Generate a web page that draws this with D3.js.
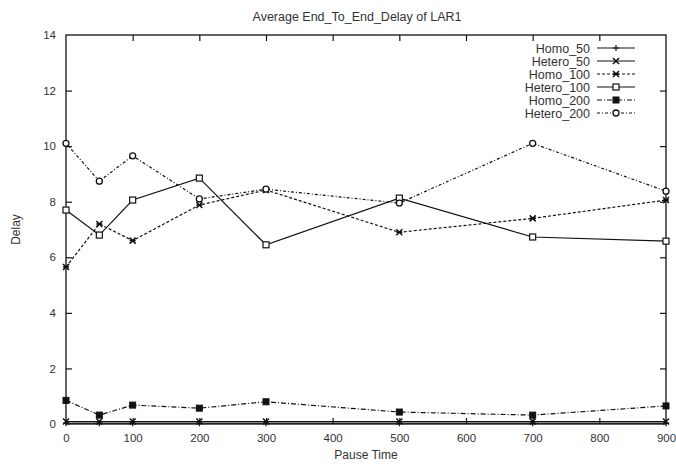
<!DOCTYPE html>
<html>
<head>
<meta charset="utf-8">
<script src="https://cdn.jsdelivr.net/npm/d3@7"></script>
<style>
  html, body { margin: 0; padding: 0; background: #fff; }
  svg { display: block; font-family: "Liberation Sans", Arial, sans-serif; }
</style>
</head>
<body>
<svg id="chart" width="676" height="464"></svg>
<script>
// Pause times (x) and average end-to-end delay per scenario
const pauseTimes = [0, 50, 100, 200, 300, 500, 700, 900];
const homo50    = [0.03, 0.03, 0.03, 0.03, 0.03, 0.03, 0.03, 0.03];
const hetero50  = [0.09, 0.09, 0.09, 0.09, 0.09, 0.09, 0.09, 0.09];
const homo100   = [5.65, 7.2, 6.6, 7.88, 8.42, 6.9, 7.4, 8.06];
const hetero100 = [7.7, 6.8, 8.06, 8.85, 6.45, 8.13, 6.73, 6.58];
const homo200   = [0.85, 0.32, 0.68, 0.57, 0.8, 0.43, 0.32, 0.65];
const hetero200 = [10.1, 8.74, 9.65, 8.1, 8.45, 7.95, 10.1, 8.38];

const xTicks = [0, 100, 200, 300, 400, 500, 600, 700, 800, 900];
const yTicks = [0, 2, 4, 6, 8, 10, 12, 14];

const seriesNames = ["Homo_50", "Hetero_50", "Homo_100", "Hetero_100", "Homo_200", "Hetero_200"];
const seriesValues = [homo50, hetero50, homo100, hetero100, homo200, hetero200];
const seriesDash = [null, null, "3,2", null, "5,2,1,2", "3,2,1,2"];
const seriesMarker = ["plus", "cross", "star", "square", "filledSquare", "circle"];

const svg = d3.select("#chart");
const W = 676, H = 464;
const m = { left: 66, right: 10, top: 35, bottom: 40 };
const x0 = m.left, x1 = W - m.right, y0 = H - m.bottom, y1 = m.top;

const x = d3.scaleLinear().domain([0, 900]).range([x0, x1]);
const y = d3.scaleLinear().domain([0, 14]).range([y0, y1]);
const ink = "#111";
const textCol = "#333";

// Frame
svg.append("rect").attr("x", x0).attr("y", y1).attr("width", x1 - x0).attr("height", y0 - y1)
  .attr("fill", "none").attr("stroke", ink).attr("stroke-width", 1.3);

// Axes with inward ticks, mirrored on top/right
const tickLen = 6;
const gx = svg.append("g").attr("transform", `translate(0,${y0})`)
  .call(d3.axisBottom(x).tickValues(xTicks).tickSize(-tickLen).tickPadding(tickLen + 4));
const gy = svg.append("g").attr("transform", `translate(${x0},0)`)
  .call(d3.axisLeft(y).tickValues(yTicks).tickSize(-tickLen).tickPadding(tickLen + 4));
const gxt = svg.append("g").attr("transform", `translate(0,${y1})`)
  .call(d3.axisTop(x).tickValues(xTicks).tickSize(-tickLen).tickFormat(""));
const gyr = svg.append("g").attr("transform", `translate(${x1},0)`)
  .call(d3.axisRight(y).tickValues(yTicks).tickSize(-tickLen).tickFormat(""));
[gx, gy, gxt, gyr].forEach(g => {
  g.select(".domain").remove();
  g.selectAll(".tick line").attr("stroke", ink).attr("stroke-width", 1.2);
  g.selectAll(".tick text").attr("fill", textCol).attr("font-size", 11.5)
    .attr("font-family", "Liberation Sans, Arial, sans-serif");
});
// Drop end ticks that coincide with the frame
gy.selectAll(".tick").filter(d => d === 0 || d === 14).select("line").remove();
gyr.selectAll(".tick").filter(d => d === 0 || d === 14).select("line").remove();
gx.selectAll(".tick").filter(d => d === 0 || d === 900).select("line").remove();
gxt.selectAll(".tick").filter(d => d === 0 || d === 900).select("line").remove();

// Titles
svg.append("text").attr("x", 357).attr("y", 21).attr("text-anchor", "middle")
  .attr("font-size", 12.5).attr("fill", textCol).text("Average End_To_End_Delay of LAR1");
svg.append("text").attr("x", (x0 + x1) / 2).attr("y", 459).attr("text-anchor", "middle")
  .attr("font-size", 12).attr("fill", textCol).text("Pause Time");
svg.append("text").attr("transform", `translate(20,${(y0 + y1) / 2}) rotate(-90)`)
  .attr("text-anchor", "middle").attr("font-size", 12).attr("fill", textCol).text("Delay");

// Marker drawing
function drawMarker(g, type, cx, cy) {
  const s = 3;
  if (type === "plus") {
    g.append("path").attr("d", `M${cx - s},${cy}H${cx + s}M${cx},${cy - s}V${cy + s}`)
      .attr("stroke", ink).attr("stroke-width", 1.2).attr("fill", "none");
  } else if (type === "cross") {
    g.append("path").attr("d", `M${cx - s},${cy - s}L${cx + s},${cy + s}M${cx - s},${cy + s}L${cx + s},${cy - s}`)
      .attr("stroke", ink).attr("stroke-width", 1.5).attr("fill", "none");
  } else if (type === "star") {
    g.append("path").attr("d", `M${cx - s},${cy - s}L${cx + s},${cy + s}M${cx - s},${cy + s}L${cx + s},${cy - s}M${cx - s},${cy}H${cx + s}`)
      .attr("stroke", ink).attr("stroke-width", 1.5).attr("fill", "none");
  } else if (type === "square") {
    g.append("rect").attr("x", cx - s).attr("y", cy - s).attr("width", 2 * s).attr("height", 2 * s)
      .attr("fill", "#fff").attr("stroke", ink).attr("stroke-width", 1.2);
  } else if (type === "filledSquare") {
    g.append("rect").attr("x", cx - s).attr("y", cy - s).attr("width", 2 * s).attr("height", 2 * s)
      .attr("fill", ink).attr("stroke", ink).attr("stroke-width", 1);
  } else if (type === "circle") {
    g.append("circle").attr("cx", cx).attr("cy", cy).attr("r", s)
      .attr("fill", "#fff").attr("stroke", ink).attr("stroke-width", 1.3);
  }
}

// Series lines and markers
const line = d3.line().x((d, i) => x(pauseTimes[i])).y(d => y(d));
seriesValues.forEach((vals, k) => {
  const g = svg.append("g");
  g.append("path").datum(vals).attr("d", line).attr("fill", "none")
    .attr("stroke", ink).attr("stroke-width", 1.2)
    .attr("stroke-dasharray", seriesDash[k]);
  vals.forEach((v, i) => drawMarker(g, seriesMarker[k], x(pauseTimes[i]), y(v)));
});

// Legend
const legX = 590, legY = 48, legStep = 13;
seriesNames.forEach((name, k) => {
  const ly = legY + k * legStep;
  const g = svg.append("g");
  g.append("text").attr("x", legX).attr("y", ly + 4.5).attr("text-anchor", "end")
    .attr("font-size", 12.5).attr("fill", textCol).text(name);
  g.append("line").attr("x1", legX + 7).attr("x2", legX + 45).attr("y1", ly).attr("y2", ly)
    .attr("stroke", ink).attr("stroke-width", 1.2).attr("stroke-dasharray", seriesDash[k]);
  drawMarker(g, seriesMarker[k], legX + 26, ly);
});
</script>
</body>
</html>
